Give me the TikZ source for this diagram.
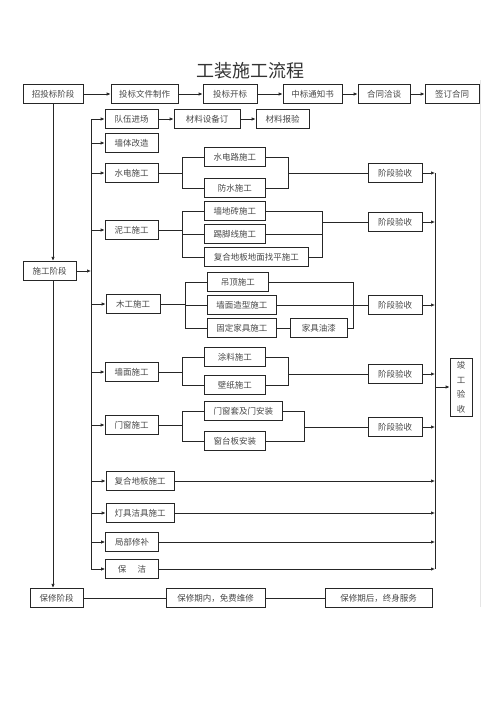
\documentclass[tikz,border=0pt]{standalone}
\usepackage{fontspec}
\setmainfont{Noto Sans CJK SC}
\usetikzlibrary{arrows.meta}
\usetikzlibrary{calc}
\tikzset{>={Latex[length=4pt,width=3.4pt]}}
\colorlet{myline}{black!85}
\colorlet{mytext}{black!72}

\begin{document}
\begin{tikzpicture}[
    x=1pt,y=-1pt,
    box/.style={draw=myline,line width=0.7pt,minimum height=19.5,inner sep=1pt,
                text=mytext,font=\fontsize{8.5}{10}\selectfont},
    link/.style={myline,line width=0.7pt},
  ]
  \useasboundingbox (0,0) rectangle (500,707);
  
  \def\lbus{91}
  \def\rbus{435}
  \coordinate (lb) at (\lbus,0);
  \coordinate (rb) at (\rbus,0);
  
  % TITLE
  \node[text=black!80,font=\fontsize{18}{20}\selectfont] (title) at (250,71) {工装施工流程};
  
  % TENDER ROW
  \foreach \n/\x/\w/\t in {zb/53/60/招投标阶段, wj/144.5/67/投标文件制作, kb/230/54/投标开标,
                           tz/312.5/59/中标通知书, qt/384/52/合同洽谈, qd/452/54/签订合同}
    \node[box,minimum width=\w] (\n) at (\x,94) {\t};
  \foreach \a/\b in {zb/wj,wj/kb,kb/tz,tz/qt,qt/qd}
    \draw[link,->] (\a) -- (\b);
  
  % STAGES
  \node[box,minimum width=53] (sg) at (49.5,271) {施工阶段};
  \node[box,minimum width=53] (bx) at (56.5,598) {保修阶段};
  \draw[link,->] (zb.south) -- (zb.south |- sg.north);
  \draw[link,->] (zb.south |- sg.south) -- (zb.south |- bx.north);
  \draw[link,->] (sg.east) -- (sg.east -| lb);
  
  % WORK ITEMS
  \foreach \n/\x/\y/\w/\t in {dw/131.5/119/53/队伍进场, qg/131.5/143/53/墙体改造,
                              sd/131.5/173/53/水电施工, ng/131.5/230/53/泥工施工,
                              mg/133/304/54/木工施工, qm/131.5/372/53/墙面施工,
                              mc/131.5/425/53/门窗施工, fd/140/481/68/复合地板施工,
                              dj/140/513/68/灯具洁具施工, jb/132/542/53/局部修补,
                              bj/132/569/53/保\hspace{1.3em}洁}{
    \node[box,minimum width=\w] (\n) at (\x,\y) {\t};
    \draw[link,->] (\n.west -| lb) -- (\n.west);
  }
  \draw[link] (dw.west -| lb) -- (bj.west -| lb);
  
  \node[box,minimum width=66] (cs) at (207,119) {材料设备订};
  \node[box,minimum width=53] (cb) at (282.5,119) {材料报验};
  \draw[link,->] (dw) -- (cs);
  \draw[link,->] (cs) -- (cb);
  
  % SUB ITEMS
  \foreach \n/\x/\y/\w/\t in {sdl/204/157/61/水电路施工, fs/204/188/61/防水施工,
                              qz/204/211/61/墙地砖施工, tj/204/234/61/踢脚线施工,
                              fh/204/257/104/复合地板地面找平施工,
                              dd/207/282/61/吊顶施工, qmz/207/305/69/墙面造型施工,
                              gj/207/328/69/固定家具施工, yq/290/328/57/家具油漆,
                              tl/204/357/61/涂料施工, bz/204/385/61/壁纸施工,
                              mt/204/411/78/门窗套及门安装, ct/204/441/61/窗台板安装}
    \node[box,minimum width=\w,minimum height=19,anchor=west] (\n) at (\x,\y) {\t};
  \draw[link] (gj) -- (yq);
  
  \foreach \p/\c in {sd/sdl, sd/fs, ng/qz, ng/tj, ng/fh, mg/dd, mg/qmz, mg/gj,
                     qm/tl, qm/bz, mc/mt, mc/ct}
    \draw[link] (\p.east) -| ($(\c.west)+(-22,0)$) -- (\c.west);
  
  % CHECKS
  \foreach \n/\y in {ys1/173, ys2/222, ys3/305, ys4/374, ys5/427}
    \node[box,minimum width=54] (\n) at (395,\y) {阶段验收};
  \coordinate (m1) at (288,173);
  \coordinate (m2) at (322,222);
  \coordinate (m3) at (353,305);
  \coordinate (m4) at (288,374);
  \coordinate (m5) at (304,427);
  \foreach \c/\m in {sdl/m1, fs/m1, qz/m2, tj/m2, fh/m2, dd/m3, yq/m3, qmz/m3,
                     tl/m4, bz/m4, mt/m5, ct/m5}
    \draw[link] (\c.east) -| (\m);
  \foreach \m/\n in {m1/ys1, m2/ys2, m3/ys3, m4/ys4, m5/ys5}
    \draw[link] (\m) -- (\n.west);
  
  % RIGHT BUS
  \foreach \n in {ys1,ys2,ys3,ys4,ys5,fd,dj,jb,bj}
    \draw[link,->] (\n.east) -- (\n.east -| rb);
  \draw[link] (ys1.east -| rb) -- (bj.east -| rb);
  \node[box,minimum width=22,minimum height=58,inner sep=2pt,align=center,
        font=\fontsize{8.5}{14.5}\selectfont] (jg) at (461,387) {竣\\工\\验\\收};
  \draw[link,->] (jg.west -| rb) -- (jg.west);
  
  % WARRANTY
  \node[box,minimum width=99] (bn) at (215.5,598) {保修期内，免费维修};
  \node[box,minimum width=107] (bh) at (378.5,598) {保修期后，终身服务};
  \draw[link] (bx) -- (bn);
  \draw[link] (bn) -- (bh);
  
  \draw[black!10,line width=0.6pt] (480,80) -- (480,607);
  
\end{tikzpicture}
\end{document}
